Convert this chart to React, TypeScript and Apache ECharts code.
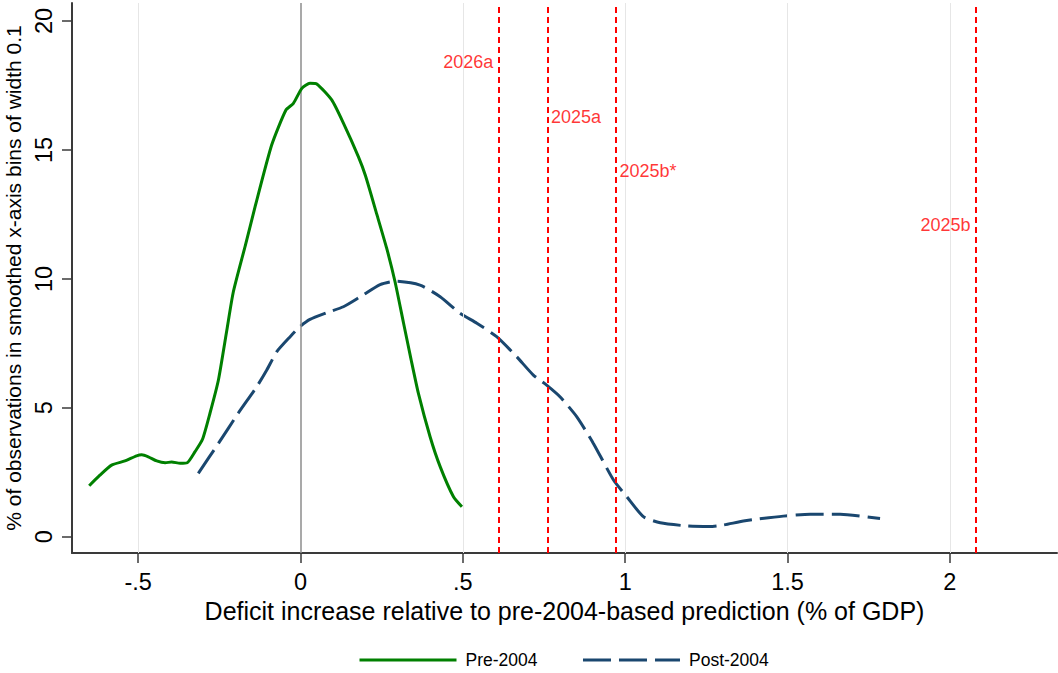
import React, { useEffect, useRef } from "react";
import * as echarts from "echarts";

const xTicks = [-0.5, 0, 0.5, 1, 1.5, 2];
const xTickLabels = ["-.5", "0", ".5", "1", "1.5", "2"];
const yTicks = [0, 5, 10, 15, 20];
const gridX = [-0.5, 0.5, 1, 1.5, 2];

const pre2004: number[][] = [
  [-0.651, 1.98], [-0.618, 2.39], [-0.582, 2.78], [-0.541, 2.94], [-0.505, 3.14],
  [-0.489, 3.18], [-0.469, 3.1], [-0.443, 2.94], [-0.417, 2.87], [-0.397, 2.9],
  [-0.371, 2.85], [-0.349, 2.87], [-0.325, 3.3], [-0.302, 3.78], [-0.279, 4.79],
  [-0.253, 6.08], [-0.227, 8.02], [-0.207, 9.5], [-0.17, 11.3], [-0.14, 12.8],
  [-0.089, 15.19], [-0.045, 16.55], [-0.022, 16.81], [0.004, 17.39], [0.029, 17.59],
  [0.05, 17.56], [0.096, 16.94], [0.132, 16.04], [0.178, 14.74], [0.2, 14.0],
  [0.235, 12.5], [0.265, 11.2], [0.291, 9.89], [0.317, 8.3], [0.34, 6.9],
  [0.363, 5.56], [0.399, 3.88], [0.43, 2.72], [0.471, 1.55], [0.497, 1.16],
];

const post2004: number[][] = [
  [-0.315, 2.46], [-0.253, 3.62], [-0.192, 4.79], [-0.135, 5.82], [-0.104, 6.47],
  [-0.073, 7.18], [-0.032, 7.76], [-0.002, 8.15], [0.029, 8.43], [0.081, 8.69],
  [0.132, 8.92], [0.183, 9.3], [0.245, 9.78], [0.291, 9.91], [0.368, 9.76],
  [0.43, 9.31], [0.491, 8.67], [0.543, 8.28], [0.604, 7.76], [0.666, 6.98],
  [0.717, 6.27], [0.758, 5.88], [0.799, 5.43], [0.851, 4.65], [0.902, 3.62],
  [0.964, 2.2], [1.005, 1.55], [1.056, 0.78], [1.108, 0.54], [1.19, 0.42],
  [1.26, 0.4], [1.3, 0.45], [1.369, 0.62], [1.487, 0.8], [1.57, 0.87],
  [1.662, 0.87], [1.785, 0.71],
];

const scenarioNames = ["2026a", "2025a", "2025b*", "2025b"];
const scenarioX = [0.606, 0.759, 0.97, 2.076];
const scenarioLabelY = [18.41, 16.28, 14.2, 12.09];
const scenarioLabelSide = ["left", "right", "right", "left"];

const FONT = "'Liberation Sans', Arial, Helvetica, sans-serif";

export default function App() {
  const ref = useRef<HTMLDivElement>(null);
  useEffect(() => {
    if (!ref.current) return;
    const chart = echarts.init(ref.current, null, { renderer: "svg" });
    const option: any = {
      animation: false,
      backgroundColor: "#ffffff",
      textStyle: { fontFamily: FONT },
      grid: { left: 72, right: 1, top: 3, bottom: 120, containLabel: false, outerBoundsMode: "none" },
      legend: {
        left: 353,
        top: 646,
        itemWidth: 97,
        itemHeight: 2,
        itemGap: 44,
        data: ["Pre-2004", "Post-2004"],
        itemStyle: { opacity: 0 },
        lineStyle: { width: 3 },
        textStyle: { fontSize: 17.5, color: "#000", fontFamily: FONT, padding: [0, 0, 0, 4] },
      },
      xAxis: {
        type: "value",
        min: -0.704,
        max: 2.33,
        name: "Deficit increase relative to pre-2004-based prediction (% of GDP)",
        nameLocation: "middle",
        nameGap: 41,
        nameTextStyle: { fontSize: 25, color: "#000", fontFamily: FONT },
        axisLine: { onZero: false, lineStyle: { color: "#3a3a3a", width: 2 } },
        axisTick: { show: true, length: 10, customValues: xTicks, lineStyle: { color: "#3a3a3a", width: 1.5 } },
        axisLabel: {
          customValues: xTicks,
          fontSize: 23.5,
          color: "#000",
          margin: 17,
          fontFamily: FONT,
          formatter: (v: number) => {
            const i = xTicks.findIndex((t) => Math.abs(t - v) < 1e-9);
            return i >= 0 ? xTickLabels[i] : "";
          },
        },
        splitLine: { show: false },
      },
      yAxis: {
        type: "value",
        min: -0.63,
        max: 20.7,
        name: "% of observations in smoothed x-axis bins of width 0.1",
        nameLocation: "middle",
        nameGap: 45,
        nameRotate: 90,
        nameTextStyle: { fontSize: 21, color: "#000", fontFamily: FONT },
        axisLine: { show: true, onZero: false, lineStyle: { color: "#3a3a3a", width: 2 } },
        axisTick: { show: true, length: 10, customValues: yTicks, lineStyle: { color: "#3a3a3a", width: 1.5 } },
        axisLabel: {
          customValues: yTicks,
          fontSize: 23.5,
          color: "#000",
          rotate: 90,
          margin: 16,
          fontFamily: FONT,
        },
        splitLine: { show: false },
      },
      series: [
        {
          name: "grid",
          type: "line",
          data: [],
          silent: true,
          markLine: {
            silent: true,
            symbol: "none",
            label: { show: false },
            lineStyle: { color: "#e6e6e6", width: 1, type: "solid" },
            data: gridX.map((x) => ({ xAxis: x })),
          },
        },
        {
          name: "zero",
          type: "line",
          data: [],
          silent: true,
          markLine: {
            silent: true,
            symbol: "none",
            label: { show: false },
            lineStyle: { color: "#8c8c8c", width: 1.5, type: "solid" },
            data: [{ xAxis: 0 }],
          },
        },
        {
          name: "Pre-2004",
          type: "line",
          data: pre2004,
          symbol: "none",
          smooth: 0.2,
          color: "#008000",
          lineStyle: { color: "#008000", width: 3 },
          z: 5,
        },
        {
          name: "Post-2004",
          type: "line",
          data: post2004,
          symbol: "none",
          smooth: 0.2,
          color: "#1a476f",
          lineStyle: { color: "#1a476f", width: 3, type: [28, 8] },
          z: 4,
        },
        {
          name: "scenarios",
          type: "line",
          data: [],
          silent: true,
          markLine: {
            silent: true,
            symbol: "none",
            label: { show: false },
            lineStyle: { color: "#ff0000", width: 2, type: [6, 4] },
            data: scenarioX.map((x) => ({ xAxis: x })),
          },
          z: 6,
        },
        {
          name: "scenarioLabels",
          type: "scatter",
          symbolSize: 0,
          silent: true,
          data: scenarioNames.map((n, i) => ({
            value: [scenarioX[i], scenarioLabelY[i]],
            label: {
              show: true,
              formatter: n,
              position: scenarioLabelSide[i],
              distance: 4,
              color: "#ff0000",
              fontSize: 18,
              fontFamily: FONT,
            },
          })),
          z: 7,
        },
      ],
    };
    chart.setOption(option);
    return () => chart.dispose();
  }, []);
  return (
    <div
      ref={ref}
      style={{ position: "fixed", left: 0, top: 0, width: 1058, height: 673, background: "#fff" }}
    />
  );
}
